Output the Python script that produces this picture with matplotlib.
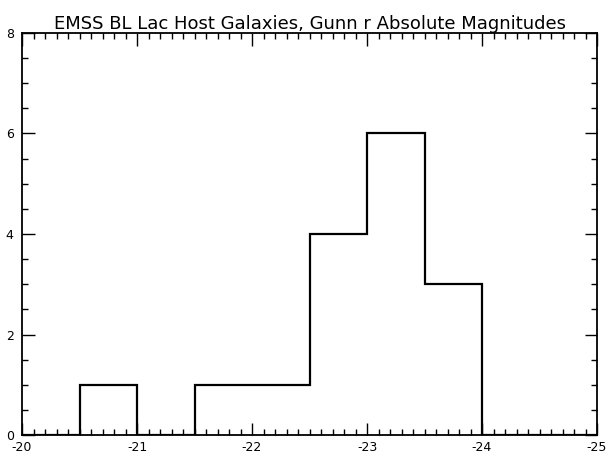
import matplotlib.pyplot as plt
from matplotlib.ticker import MultipleLocator

# absolute magnitude bins (0.5 mag wide) and number of host galaxies
edges = [-25.0, -24.5, -24.0, -23.5, -23.0, -22.5, -22.0, -21.5, -21.0, -20.5, -20.0]
counts = [0, 0, 3, 6, 4, 1, 1, 0, 1, 0]
xticks = [-20, -21, -22, -23, -24, -25]
yticks = [0, 2, 4, 6, 8]

fig = plt.figure(figsize=(6.08, 4.57), dpi=100)
ax = fig.add_axes([22 / 608, 22 / 457, 575 / 608, 402 / 457])

ax.stairs(counts, edges, color='black', linewidth=1.6, baseline=0)

ax.set_xlim(-20, -25)
ax.set_ylim(0, 8)
ax.set_xticks(xticks)
ax.set_xticklabels(['-20', '-21', '-22', '-23', '-24', '-25'])
ax.set_yticks(yticks)
ax.xaxis.set_minor_locator(MultipleLocator(0.1))
ax.yaxis.set_minor_locator(MultipleLocator(0.5))
ax.tick_params(which='both', direction='in', top=True, right=True, labelsize=9, pad=4)
ax.tick_params(axis='y', pad=6)
ax.tick_params(which='major', length=9, width=1)
ax.tick_params(which='minor', length=4, width=1)
for s in ax.spines.values():
    s.set_linewidth(1.3)

ax.set_title('EMSS BL Lac Host Galaxies, Gunn r Absolute Magnitudes', fontsize=13, pad=2)

fig.savefig('out.png', dpi=100)
